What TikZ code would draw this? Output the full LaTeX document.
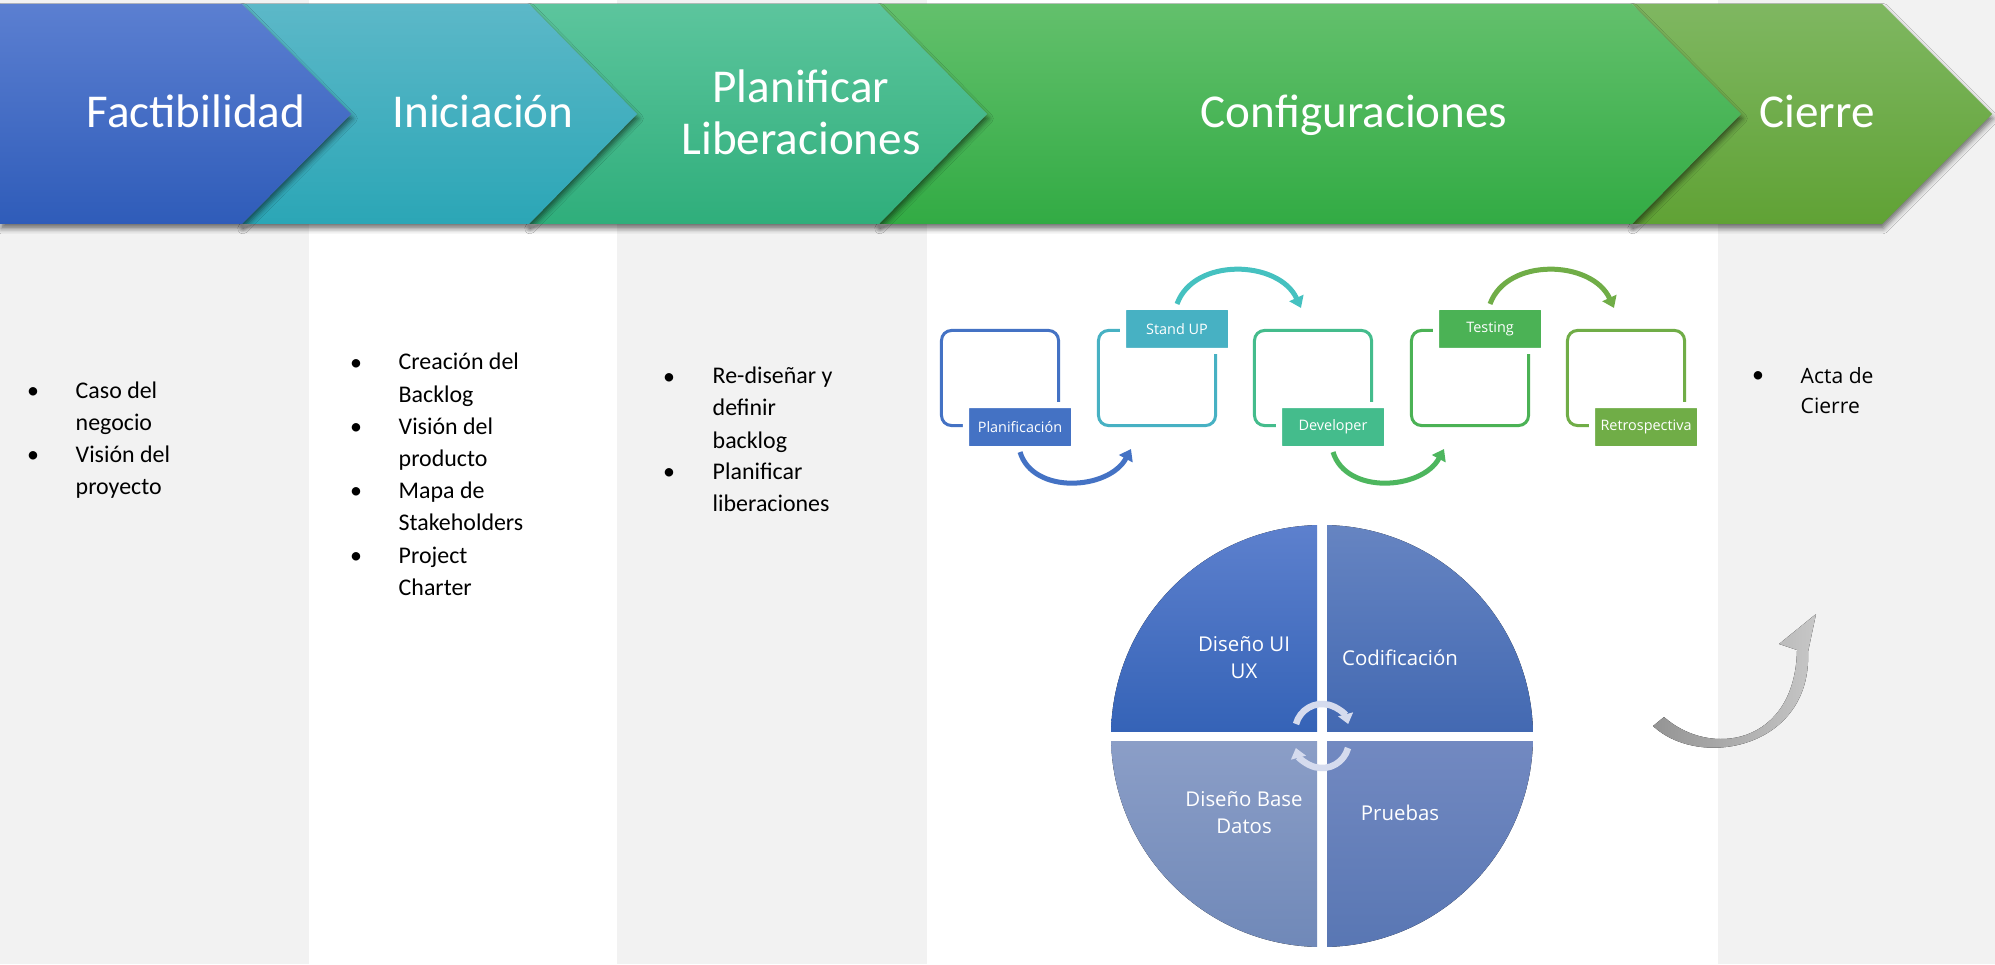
\documentclass[tikz,border=0pt]{standalone}
\usepackage{fontspec}
\setmainfont{Carlito}
\newfontfamily\osans{Open Sans}
\usetikzlibrary{arrows.meta,shadows.blur}

\definecolor{grisfondo}{HTML}{F2F2F2}
\definecolor{faT}{HTML}{5B7FD1}
\definecolor{faB}{HTML}{2F5CB9}
\definecolor{inT}{HTML}{5CB8C8}
\definecolor{inB}{HTML}{2BA6B6}
\definecolor{plT}{HTML}{5CC59D}
\definecolor{plB}{HTML}{2FAE7B}
\definecolor{coT}{HTML}{63C06C}
\definecolor{coB}{HTML}{32AB44}
\definecolor{ciT}{HTML}{7FB761}
\definecolor{ciB}{HTML}{60A235}
\definecolor{azul}{HTML}{4472C4}
\definecolor{turq}{HTML}{47B1C3}
\definecolor{turqarc}{HTML}{45C1C0}
\definecolor{verdeag}{HTML}{44BC8C}
\definecolor{verde}{HTML}{4BB255}
\definecolor{verdearc}{HTML}{4DB65E}
\definecolor{oliva}{HTML}{70AD47}
\definecolor{q1T}{HTML}{5E81CE}
\definecolor{q1B}{HTML}{3563B7}
\definecolor{q2T}{HTML}{6785C2}
\definecolor{q2B}{HTML}{4369B2}
\definecolor{q3T}{HTML}{8B9EC7}
\definecolor{q3B}{HTML}{6F88B8}
\definecolor{q4T}{HTML}{7289C1}
\definecolor{q4B}{HTML}{5876B3}
\definecolor{ringc}{HTML}{D5DBEE}

\begin{document}
\begin{tikzpicture}[x=0.01cm,y=0.01cm,
  chev/.style={blur shadow={shadow xshift=0.3pt,shadow yshift=-1.3pt,shadow blur radius=1.5pt,shadow opacity=55}},
  phase/.style={text=white,inner sep=0pt,align=center,font=\fontsize{13.4}{14.8}\selectfont},
  item/.style={anchor=base west,align=left,inner sep=0pt,font=\fontsize{6.8}{9.1}\selectfont},
  bul/.style={anchor=base,inner sep=0pt,font=\fontsize{6.8}{9.1}\selectfont},
  box/.style={draw=#1,line width=0.03cm,rounded corners=0.1cm,minimum width=1.17cm,minimum height=0.95cm},
  lab/.style={fill=#1,draw=white,line width=0.06cm,rounded corners=0.03cm,minimum width=1.08cm,minimum height=0.44cm,inner sep=0pt,text=white,font=\osans\fontsize{4.1}{5}\selectfont},
  cyc/.style={draw=#1,line width=0.05cm,-{Triangle[width=0.15cm,length=0.11cm]}},
  ring/.style={draw=ringc,line width=0.065cm,-{Triangle[width=0.15cm,length=0.1cm]}},
  sector/.style={text=white,align=center,inner sep=0pt,font=\osans\fontsize{5.8}{7.7}\selectfont}
]
\useasboundingbox (0,0) rectangle (1995,-964);

% columns
\fill[white] (0,0) rectangle (1995,-964);
\fill[grisfondo] (0,0) rectangle (309,-964);
\fill[grisfondo] (617,0) rectangle (927,-964);
\fill[grisfondo] (1718,0) rectangle (1995,-964);

% phases, right to left so each shadow falls on the next one
\path[chev,top color=ciT,bottom color=ciB] (1632,-4) -- (1882,-4) -- (1992,-114) -- (1882,-224) -- (1632,-224) -- (1741,-114) -- cycle;
\path[chev,top color=coT,bottom color=coB] (879,-4) -- (1632,-4) -- (1741,-114) -- (1632,-224) -- (879,-224) -- (987,-114) -- cycle;
\path[chev,top color=plT,bottom color=plB] (529,-4) -- (879,-4) -- (987,-114) -- (879,-224) -- (529,-224) -- (637,-114) -- cycle;
\path[chev,top color=inT,bottom color=inB] (242,-4) -- (529,-4) -- (637,-114) -- (529,-224) -- (242,-224) -- (351,-114) -- cycle;
\path[chev,top color=faT,bottom color=faB] (0,-4) -- (242,-4) -- (351,-114) -- (242,-224) -- (0,-224) -- cycle;

\node[phase,anchor=base] (fact) at (196,-128) {Factibilidad};
\node[phase,anchor=base] (inic) at (483,-128) {Iniciación};
\node[phase] (plan) at (801,-112) {Planificar\\Liberaciones};
\node[phase,anchor=base] (conf) at (1354,-128) {Configuraciones};
\node[phase,anchor=base] (cier) at (1817,-128) {Cierre};

% deliverables (base = last line)
\node[bul] (d1) at (33,-398) {\textbullet};
\node[item] (caso) at (75,-430) {Caso del\\negocio};
\node[bul] (d2) at (33,-462) {\textbullet};
\node[item] (vproy) at (75,-494) {Visión del\\proyecto};

\node[bul] (d3) at (356,-370) {\textbullet};
\node[item] (backlog) at (398,-402) {Creación del\\Backlog};
\node[bul] (d4) at (356,-434) {\textbullet};
\node[item] (vprod) at (398,-466) {Visión del\\producto};
\node[bul] (d5) at (356,-498) {\textbullet};
\node[item] (mapa) at (398,-530) {Mapa de\\Stakeholders};
\node[bul] (d6) at (356,-563) {\textbullet};
\node[item] (charter) at (398,-595) {Project\\Charter};

\node[bul] (d7) at (669,-384) {\textbullet};
\node[item] (redis) at (712,-448) {Re-diseñar y\\definir\\backlog};
\node[bul] (d8) at (669,-479) {\textbullet};
\node[item] (plib) at (712,-511) {Planificar\\liberaciones};

\node[bul] (d9) at (1758,-383) {\textbullet};
\node[item,font=\osans\fontsize{6}{8.5}\selectfont] (acta) at (1800,-413) {Acta de\\Cierre};

% sprint cycle
\node[box=azul] (b1) at (1000,-378) {};
\node[box=turq] (b2) at (1157,-378) {};
\node[box=verdeag] (b3) at (1313,-378) {};
\node[box=verde] (b4) at (1470,-378) {};
\node[box=oliva] (b5) at (1626,-378) {};
\node[lab=azul] (l1) at ([xshift=0.2cm]b1.south) {Planificación};
\node[lab=turq] (l2) at ([xshift=0.2cm]b2.north) {Stand UP};
\node[lab=verdeag] (l3) at ([xshift=0.2cm]b3.south) {Developer};
\node[lab=verde] (l4) at ([xshift=0.2cm]b4.north) {Testing};
\node[lab=oliva] (l5) at ([xshift=0.2cm]b5.south) {Retrospectiva};

\draw[cyc=azul] (l1.south) .. controls +(13,-43) and +(-22,-41) .. ([shift={(34,-22)}]b2.south west);
\draw[cyc=turqarc] (l2.north) .. controls +(17,47) and +(-22,48) .. ([shift={(48,21)}]b3.north west);
\draw[cyc=verdearc] (l3.south) .. controls +(13,-43) and +(-22,-41) .. ([shift={(34,-22)}]b4.south west);
\draw[cyc=oliva] (l4.north) .. controls +(17,47) and +(-22,48) .. ([shift={(48,21)}]b5.north west);

% development wheel
\begin{scope}
\clip (1322,-736) circle (211);
\fill[top color=q1T,bottom color=q1B] (1105,-520) rectangle (1317,-731);
\fill[top color=q2T,bottom color=q2B] (1327,-520) rectangle (1540,-731);
\fill[top color=q3T,bottom color=q3B] (1105,-741) rectangle (1317,-952);
\fill[top color=q4T,bottom color=q4B] (1327,-741) rectangle (1540,-952);
\end{scope}
\node[sector] (ui) at (1244,-658) {Diseño UI\\UX};
\node[sector] (cod) at (1400,-658) {Codificación};
\node[sector] (bd) at (1244,-813) {Diseño Base\\Datos};
\node[sector] (prue) at (1400,-813) {Pruebas};

\draw[ring] (1296,-724) arc[start angle=165,end angle=15,radius=27];
\draw[ring] (1348,-748) arc[start angle=-15,end angle=-165,radius=27];

% return arrow
\fill[left color=black!42,right color=black!22] (1653,-726) .. controls (1700,-770) and (1812,-748) .. (1808,-652) -- (1816,-614) -- (1779,-644) -- (1797,-650) .. controls (1795,-745) and (1710,-758) .. (1664,-717) -- cycle;
\end{tikzpicture}
\end{document}
